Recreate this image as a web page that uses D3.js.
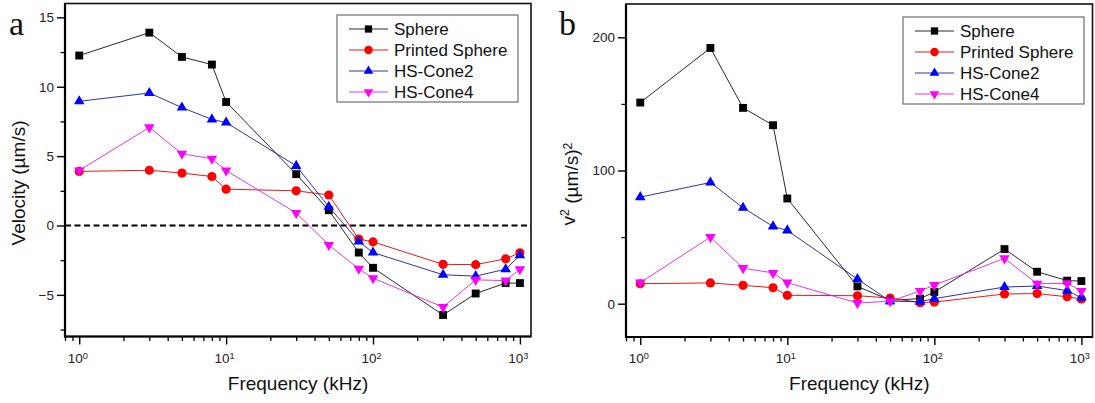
<!DOCTYPE html>
<html>
<head>
<meta charset="utf-8">
<script src="https://cdn.jsdelivr.net/npm/d3@7"></script>
<style>
  html, body { margin: 0; padding: 0; background: #fff; }
  svg { display: block; font-family: "Liberation Sans", Arial, sans-serif; }
</style>
</head>
<body>
<svg id="chart" width="1095" height="403"></svg>
<script>
// Drive frequencies (kHz)
const frequency = [1, 3, 5, 8, 10, 30, 50, 80, 100, 300, 500, 800, 1000];

// Panel a: velocity (µm/s)
const velSphere  = [12.25, 13.9, 12.15, 11.6, 8.9, 3.7, 1.1, -1.95, -3.05, -6.45, -4.9, -4.15, -4.15];
const velPrinted = [3.9, 3.98, 3.78, 3.53, 2.62, 2.5, 2.2, -0.98, -1.18, -2.8, -2.82, -2.4, -1.97];
const velCone2   = [8.95, 9.55, 8.5, 7.65, 7.42, 4.3, 1.35, -1.15, -1.95, -3.55, -3.65, -3.15, -2.15];
const velCone4   = [3.97, 7.07, 5.17, 4.81, 3.97, 0.9, -1.4, -3.12, -3.8, -5.88, -3.92, -3.97, -3.15];

// Panel b: squared velocity ((µm/s)^2)
const sqSphere  = [151, 192, 147, 134, 79, 13, 2.5, 3.8, 8.8, 41, 24, 17.3, 17];
const sqPrinted = [15, 15.6, 13.8, 12, 6.3, 6, 4.3, 0.8, 1.2, 7.3, 7.6, 5.2, 3.5];
const sqCone2   = [80, 91, 72, 58, 55, 18.5, 1.9, 1.5, 3.8, 12.5, 13.3, 9.8, 4.5];
const sqCone4   = [15.8, 50, 26.7, 23.1, 15.8, 0.5, 1.9, 9.5, 14, 34, 15, 15.3, 9.5];

const seriesNames = ["Sphere", "Printed Sphere", "HS-Cone2", "HS-Cone4"];

// Axis ticks and limits
const freqDomain = [0.8, 1190];
const freqTicks = [1, 10, 100, 1000];
const velDomain = [-8, 16];
const velTicks = [-5, 0, 5, 10, 15];
const velMinorTicks = [-7.5, -2.5, 2.5, 7.5, 12.5];
const sqDomain = [-25, 225];
const sqTicks = [0, 100, 200];
const sqMinorTicks = [50, 150];

// Marker / line styling per series
const styles = [
  { color: "#000000", line: "#111111", symbol: d3.symbolSquare,   size: 62, rot: 0 },
  { color: "#ff0000", line: "#e00000", symbol: d3.symbolCircle,   size: 66, rot: 0 },
  { color: "#0000ff", line: "#1a1a9a", symbol: d3.symbolTriangle, size: 48, rot: 0 },
  { color: "#ff00ff", line: "#e020e0", symbol: d3.symbolTriangle, size: 48, rot: 180 }
];

const svg = d3.select("#chart");

const panels = [
  {
    letter: "a", letterX: 9,
    left: 65, right: 531, top: 3.5, bottom: 336.5,
    yDomain: velDomain, yTicks: velTicks, yMinor: velMinorTicks,
    data: [velSphere, velPrinted, velCone2, velCone4],
    zeroLine: true,
    yLabelX: 25, yLabelY: 183, yLabel: "vel",
    legend: { x: 337, y: 15, w: 181, h: 87 }
  },
  {
    letter: "b", letterX: 559,
    left: 626, right: 1092.5, top: 4, bottom: 337,
    yDomain: sqDomain, yTicks: sqTicks, yMinor: sqMinorTicks,
    data: [sqSphere, sqPrinted, sqCone2, sqCone4],
    zeroLine: false,
    yLabelX: 575, yLabelY: 184, yLabel: "sq",
    legend: { x: 903, y: 17, w: 181, h: 87 }
  }
];

panels.forEach(p => {
  const g = svg.append("g");
  const x = d3.scaleLog().domain(freqDomain).range([p.left, p.right]);
  const y = d3.scaleLinear().domain(p.yDomain).range([p.bottom, p.top]);

  // minor x ticks: 2..9 of each decade within the domain
  const xMinor = [];
  for (let dec = 0.1; dec <= 1000; dec *= 10) {
    for (let k = 2; k <= 9; k++) {
      const v = +(dec * k).toPrecision(3);
      if (v >= freqDomain[0] && v <= freqDomain[1]) xMinor.push(v);
    }
  }

  // x axis
  const xAxisG = g.append("g")
    .attr("transform", `translate(0,${p.bottom})`)
    .call(d3.axisBottom(x).tickValues(freqTicks).tickSize(8).tickPadding(8.5).tickFormat(() => ""));
  xAxisG.select(".domain").remove();
  xAxisG.selectAll(".tick line").attr("stroke", "#000").attr("stroke-width", 1.4);
  xAxisG.selectAll(".tick text")
    .attr("font-size", 13.5).attr("fill", "#222").attr("font-family", "Liberation Sans, Arial, sans-serif")
    .attr("dx", -2)
    .each(function(d) {
      const t = d3.select(this);
      t.append("tspan").text("10");
      t.append("tspan").attr("dy", "-0.42em").attr("font-size", "0.68em").text(Math.round(Math.log10(d)));
    });
  const xMinorG = g.append("g")
    .attr("transform", `translate(0,${p.bottom})`)
    .call(d3.axisBottom(x).tickValues(xMinor).tickSize(4.5).tickFormat(() => ""));
  xMinorG.select(".domain").remove();
  xMinorG.selectAll(".tick line").attr("stroke", "#000").attr("stroke-width", 1.3);

  // y axis
  const yAxisG = g.append("g")
    .attr("transform", `translate(${p.left},0)`)
    .call(d3.axisLeft(y).tickValues(p.yTicks).tickSize(8).tickPadding(3).tickFormat(d3.format("d")));
  yAxisG.select(".domain").remove();
  yAxisG.selectAll(".tick line").attr("stroke", "#000").attr("stroke-width", 1.4);
  yAxisG.selectAll(".tick text")
    .attr("font-size", 13.5).attr("fill", "#222").attr("font-family", "Liberation Sans, Arial, sans-serif");
  const yMinorG = g.append("g")
    .attr("transform", `translate(${p.left},0)`)
    .call(d3.axisLeft(y).tickValues(p.yMinor).tickSize(4.5).tickFormat(() => ""));
  yMinorG.select(".domain").remove();
  yMinorG.selectAll(".tick line").attr("stroke", "#000").attr("stroke-width", 1.3);

  // plot frame
  g.append("rect")
    .attr("x", p.left).attr("y", p.top)
    .attr("width", p.right - p.left).attr("height", p.bottom - p.top)
    .attr("fill", "none").attr("stroke", "#111").attr("stroke-width", 1.6);
  g.append("line").attr("x1", p.left).attr("x2", p.left).attr("y1", p.top).attr("y2", p.bottom + 1)
    .attr("stroke", "#000").attr("stroke-width", 2.2);
  g.append("line").attr("x1", p.left - 1).attr("x2", p.right).attr("y1", p.bottom).attr("y2", p.bottom)
    .attr("stroke", "#000").attr("stroke-width", 2.2);

  // zero reference line
  if (p.zeroLine) {
    g.append("line")
      .attr("x1", p.left).attr("x2", p.right)
      .attr("y1", y(0)).attr("y2", y(0))
      .attr("stroke", "#000").attr("stroke-width", 1.8)
      .attr("stroke-dasharray", "6,3.5");
  }

  // series: line then markers, in order
  const line = d3.line().x(d => x(d[0])).y(d => y(d[1]));
  p.data.forEach((vals, i) => {
    const st = styles[i];
    const pts = frequency.map((f, j) => [f, vals[j]]);
    const sg = g.append("g");
    sg.append("path").datum(pts)
      .attr("d", line).attr("fill", "none")
      .attr("stroke", st.line).attr("stroke-width", 0.9);
    sg.selectAll("path.mk").data(pts).join("path")
      .attr("class", "mk")
      .attr("d", d3.symbol().type(st.symbol).size(st.size))
      .attr("transform", d => `translate(${x(d[0])},${y(d[1])}) rotate(${st.rot})`)
      .attr("fill", st.color);
  });

  // legend
  const L = p.legend;
  const lg = g.append("g");
  lg.append("rect").attr("x", L.x).attr("y", L.y).attr("width", L.w).attr("height", L.h)
    .attr("fill", "#fff").attr("stroke", "#7a7a7a").attr("stroke-width", 1.3);
  seriesNames.forEach((name, i) => {
    const st = styles[i];
    const ry = L.y + 14 + i * 21;
    lg.append("line").attr("x1", L.x + 12).attr("x2", L.x + 51).attr("y1", ry).attr("y2", ry)
      .attr("stroke", st.line).attr("stroke-width", 0.9);
    lg.append("path")
      .attr("d", d3.symbol().type(st.symbol).size(st.size * 0.85)())
      .attr("transform", `translate(${L.x + 31.5},${ry}) rotate(${st.rot})`)
      .attr("fill", st.color);
    lg.append("text").attr("x", L.x + 57).attr("y", ry).attr("dy", "0.36em")
      .attr("font-size", 17).attr("fill", "#111").text(name);
  });

  // panel letter
  g.append("text").attr("x", p.letterX).attr("y", 35)
    .attr("font-family", "Liberation Serif, Times New Roman, serif")
    .attr("font-size", 34).attr("fill", "#111").text(p.letter);

  // x title
  g.append("text").attr("x", (p.left + p.right) / 2).attr("y", 390)
    .attr("text-anchor", "middle").attr("font-size", 19).attr("fill", "#111")
    .text("Frequency (kHz)");

  // y title
  const yt = g.append("text")
    .attr("transform", `translate(${p.yLabelX},${p.yLabelY}) rotate(-90)`)
    .attr("text-anchor", "middle").attr("font-size", 19).attr("fill", "#111");
  if (p.yLabel === "vel") {
    yt.text("Velocity (µm/s)");
  } else {
    yt.append("tspan").text("v");
    yt.append("tspan").attr("dy", "-0.45em").attr("font-size", "0.65em").text("2");
    yt.append("tspan").attr("dy", "0.45em").text(" (µm/s)");
    yt.append("tspan").attr("dy", "-0.45em").attr("font-size", "0.65em").text("2");
  }
});
</script>
</body>
</html>
